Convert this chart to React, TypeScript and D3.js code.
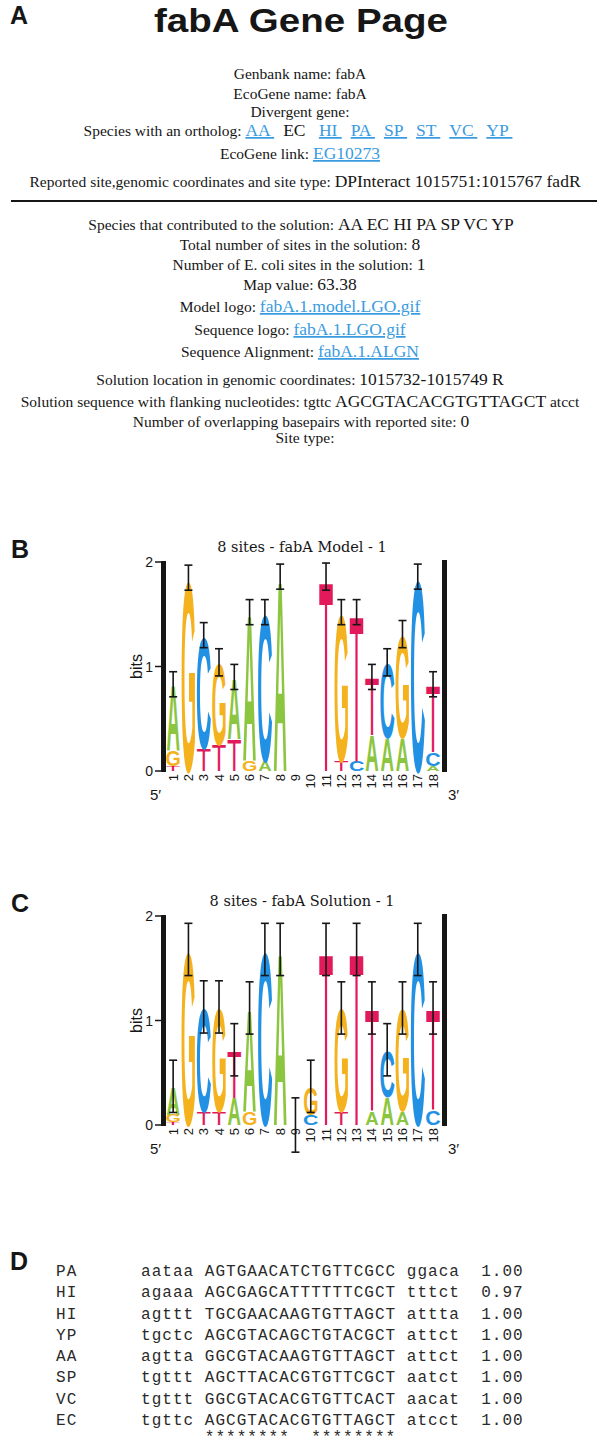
import React from "react";
import * as d3 from "d3";

// ---------------- Panel A data ----------------
const panelTitle = "fabA Gene Page";
const genbankName = "fabA";
const ecoGeneName = "fabA";
const orthologSpecies = ["AA", "EC", "HI", "PA", "SP", "ST", "VC", "YP"];
const querySpecies = "EC";
const ecoGeneLink = "EG10273";
const reportedSite = "DPInteract 1015751:1015767 fadR";
const contributingSpecies = ["AA", "EC", "HI", "PA", "SP", "VC", "YP"];
const totalSites = "8";
const ecoliSites = "1";
const mapValue = "63.38";
const modelLogoFile = "fabA.1.model.LGO.gif";
const seqLogoFile = "fabA.1.LGO.gif";
const alignmentFile = "fabA.1.ALGN";
const solutionLocation = "1015732-1015749 R";
const solutionFlankLeft = "tgttc";
const solutionCore = "AGCGTACACGTGTTAGCT";
const solutionFlankRight = "atcct";
const overlapBp = "0";

// ---------------- Panel B / C data (bits per letter, positions 1..18) ----------------
const logoPositions = ["1", "2", "3", "4", "5", "6", "7", "8", "9", "10", "11", "12", "13", "14", "15", "16", "17", "18"];

const modelA = [0.63, 0, 0, 0, 0.59, 1.42, 0.1, 1.86, 0, 0, 0, 0, 0, 0.34, 0.32, 0.32, 0, 0.05];
const modelC = [0, 0, 1.08, 0, 0, 0, 1.42, 0, 0, 0, 0, 0, 0.1, 0, 0.72, 0, 1.86, 0.13];
const modelG = [0.15, 1.85, 0, 0.79, 0, 0.1, 0, 0, 0, 0, 0, 1.42, 0, 0, 0, 0.99, 0, 0];
const modelT = [0.05, 0, 0.22, 0.25, 0.31, 0, 0, 0, 0, 0, 1.86, 0.1, 1.42, 0.56, 0, 0, 0, 0.65];
const modelErr = [0.12, 0.12, 0.12, 0.13, 0.12, 0.12, 0.12, 0.12, 0, 0, 0.13, 0.12, 0.12, 0.12, 0.13, 0.13, 0.12, 0.12];

const solA = [0.27, 0, 0, 0, 0.26, 0.99, 0, 1.68, 0, 0, 0, 0, 0, 0.13, 0.27, 0.13, 0, 0];
const solC = [0, 0, 1.01, 0, 0, 0, 1.68, 0, 0, 0.1, 0, 0, 0, 0, 0.45, 0, 1.68, 0.14];
const solG = [0.07, 1.68, 0, 1.01, 0, 0.13, 0, 0, 0, 0.27, 0, 1.0, 0, 0, 0, 0.99, 0, 0];
const solT = [0.03, 0, 0.12, 0.12, 0.46, 0, 0, 0, 0, 0, 1.68, 0.12, 1.68, 0.99, 0, 0, 0, 0.98];
const solErr = [0.25, 0.25, 0.25, 0.25, 0.25, 0.25, 0.25, 0.25, 0.26, 0.25, 0.25, 0.25, 0.25, 0.25, 0.25, 0.25, 0.25, 0.25];

// ---------------- Panel D data ----------------
const alignSpecies = ["PA", "HI", "HI", "YP", "AA", "SP", "VC", "EC"];
const alignLeft = ["aataa", "agaaa", "agttt", "tgctc", "agtta", "tgttt", "tgttt", "tgttc"];
const alignSites = [
  "AGTGAACATCTGTTCGCC",
  "AGCGAGCATTTTTTCGCT",
  "TGCGAACAAGTGTTAGCT",
  "AGCGTACAGCTGTACGCT",
  "GGCGTACAAGTGTTAGCT",
  "AGCTTACACGTGTTCGCT",
  "GGCGTACACGTGTTCACT",
  "AGCGTACACGTGTTAGCT",
];
const alignRight = ["ggaca", "tttct", "attta", "attct", "attct", "aatct", "aacat", "atcct"];
const alignScores = ["1.00", "0.97", "1.00", "1.00", "1.00", "1.00", "1.00", "1.00"];
const conservedMask = "********  ********";

// ---------------- styling ----------------
const SERIF = "'Liberation Serif', 'Times New Roman', serif";
const SANS = "'Liberation Sans', Arial, Helvetica, sans-serif";
const MONO = "'Liberation Mono', 'Courier New', monospace";
const INK = "#161616";
const LINK = "#3a9be0";
const LABEL_FS = 15.5;
const VALUE_FS = 17.5;

const glyphInfo: Record<string, { x0: number; x1: number; color: string; weight: string }> = {
  A: { x0: 0.0, x1: 0.722, color: "#8cc53f", weight: "bold" },
  C: { x0: 0.045, x1: 0.675, color: "#2391e3", weight: "bold" },
  G: { x0: 0.045, x1: 0.727, color: "#f5b21f", weight: "bold" },
  T: { x0: 0.023, x1: 0.588, color: "#e21a5c", weight: "normal" },
};
const CAP = 0.716;
const GFS = 100;

function Letter({ ch, x, w, yb, h }: { ch: string; x: number; w: number; yb: number; h: number }) {
  const g = glyphInfo[ch];
  const sx = w / ((g.x1 - g.x0) * GFS);
  const sy = h / (CAP * GFS);
  return (
    <text
      transform={`translate(${x - g.x0 * GFS * sx},${yb}) scale(${sx},${sy})`}
      fontSize={GFS}
      fontFamily={SANS}
      fontWeight={g.weight}
      fill={g.color}
    >
      {ch}
    </text>
  );
}

function Logo({
  zeroY,
  title,
  panel,
  A,
  C,
  G,
  T,
  err,
}: {
  zeroY: number;
  title: string;
  panel: string;
  A: number[];
  C: number[];
  G: number[];
  T: number[];
  err: number[];
}) {
  const x = d3.scaleBand<string>().domain(logoPositions).range([165.5, 440.7]).paddingInner(0.12).paddingOuter(0.06);
  const y = d3.scaleLinear().domain([0, 2]).range([zeroY, zeroY - 209]);
  const bw = x.bandwidth();
  const heights: Record<string, number[]> = { A, C, G, T };
  const cols = logoPositions.map((p, i) => {
    const stack = ["A", "C", "G", "T"]
      .map((l) => ({ l, h: heights[l][i] }))
      .filter((d) => d.h > 0)
      .sort((a, b) => a.h - b.h);
    let acc = 0;
    const items = stack.map((d) => {
      const y0 = acc;
      acc += d.h;
      return { ...d, y0, y1: acc };
    });
    return { p, i, items, total: acc };
  });
  return (
    <g>
      <text x={11} y={zeroY - 213} fontFamily={SANS} fontWeight="bold" fontSize={25} fill={INK}>
        {panel}
      </text>
      <text x={302} y={zeroY - 219} textAnchor="middle" fontFamily="'DejaVu Serif', serif" fontSize={14.5} fill={INK}>
        {title}
      </text>
      {cols.map((c) =>
        c.items.map((d) => (
          <Letter key={c.p + d.l} ch={d.l} x={x(c.p)!} w={bw} yb={y(d.y0)} h={y(d.y0) - y(d.y1)} />
        ))
      )}
      {cols.map((c) => {
        const e = err[c.i];
        if (!(e > 0)) return null;
        const cx = x(c.p)! + bw / 2;
        const t = y(c.total + e);
        const b = y(c.total - e);
        return (
          <g key={"e" + c.p} stroke={INK} strokeWidth={1.6}>
            <line x1={cx} x2={cx} y1={t} y2={b} />
            <line x1={cx - 4} x2={cx + 4} y1={t} y2={t} />
            <line x1={cx - 4} x2={cx + 4} y1={b} y2={b} />
          </g>
        );
      })}
      {/* axes */}
      <rect x={161} y={y(2) - 1} width={5} height={y(0) - y(2) + 2} fill={INK} />
      <rect x={442} y={y(2) - 2} width={5} height={y(0) - y(2) + 3} fill={INK} />
      {y.ticks(2).map((t) => (
        <g key={"t" + t}>
          <line x1={155} x2={161} y1={y(t)} y2={y(t)} stroke={INK} strokeWidth={1.5} />
          <text x={153} y={y(t)} textAnchor="end" dominantBaseline="central" fontFamily={SANS} fontSize={14} fill={INK}>
            {t}
          </text>
        </g>
      ))}
      <text
        transform={`translate(136,${y(1)}) rotate(-90)`}
        textAnchor="middle"
        dominantBaseline="central"
        fontFamily={SANS}
        fontSize={16}
        fill={INK}
      >
        bits
      </text>
      {logoPositions.map((p) => (
        <text
          key={"n" + p}
          transform={`translate(${x(p)! + bw / 2},${y(0) + 3}) rotate(-90)`}
          textAnchor="end"
          dominantBaseline="central"
          fontFamily={SANS}
          fontSize={13}
          fill={INK}
        >
          {p}
        </text>
      ))}
      <text x={150} y={zeroY + 29} fontFamily={SANS} fontSize={15} fill={INK}>
        5′
      </text>
      <text x={448} y={zeroY + 29} fontFamily={SANS} fontSize={15} fill={INK}>
        3′
      </text>
    </g>
  );
}

type Part = { t: string; kind: "label" | "value" | "link" | "plain"; dx?: number };

function InfoLine({ y, cx, parts }: { y: number; cx: number; parts: Part[] }) {
  return (
    <text x={cx} y={y} textAnchor="middle" fontFamily={SERIF} style={{ whiteSpace: "pre" }}>
      {parts.map((p, i) => (
        <tspan
          key={i}
          dx={p.dx || 0}
          fontSize={p.kind === "label" || p.kind === "plain" ? LABEL_FS : VALUE_FS}
          fill={p.kind === "link" ? LINK : INK}
          style={p.kind === "link" ? { textDecoration: "underline" } : undefined}
        >
          {p.t}
        </tspan>
      ))}
    </text>
  );
}

export default function App() {
  const lab = (t: string): Part => ({ t: t + " ", kind: "label" });
  const topLines: Part[][] = [
    [lab("Genbank name:"), { t: genbankName, kind: "plain" }],
    [lab("EcoGene name:"), { t: ecoGeneName, kind: "plain" }],
    [{ t: "Divergent gene:", kind: "label" }],
    [
      lab("Species with an ortholog:"),
      ...orthologSpecies.map((s, i): Part => ({
        t: s + " ",
        kind: s === querySpecies ? "value" : "link",
        dx: i === 0 ? 0 : 9,
      })),
    ],
    [lab("EcoGene link:"), { t: ecoGeneLink, kind: "link" }],
    [lab("Reported site,genomic coordinates and site type:"), { t: reportedSite, kind: "value" }],
  ];
  const bottomLines: Part[][] = [
    [lab("Species that contributed to the solution:"), { t: contributingSpecies.join(" "), kind: "value" }],
    [lab("Total number of sites in the solution:"), { t: totalSites, kind: "value" }],
    [lab("Number of E. coli sites in the solution:"), { t: ecoliSites, kind: "value" }],
    [lab("Map value:"), { t: mapValue, kind: "value" }],
    [lab("Model logo:"), { t: modelLogoFile, kind: "link" }],
    [lab("Sequence logo:"), { t: seqLogoFile, kind: "link" }],
    [lab("Sequence Alignment:"), { t: alignmentFile, kind: "link" }],
    [lab("Solution location in genomic coordinates:"), { t: solutionLocation, kind: "value" }],
    [
      lab("Solution sequence with flanking nucleotides:"),
      { t: solutionFlankLeft + " ", kind: "plain" },
      { t: solutionCore, kind: "value" },
      { t: " " + solutionFlankRight, kind: "plain" },
    ],
    [lab("Number of overlapping basepairs with reported site:"), { t: overlapBp, kind: "value" }],
    [{ t: "Site type:", kind: "label" }],
  ];
  const topY = [79, 99, 117, 136, 159, 187];
  const topX = [300, 300, 300, 298, 300, 305];
  const bottomY = [230, 250, 270, 290, 312, 335, 357, 385, 407, 427, 443];
  const bottomX = [301, 300, 299, 300, 300, 300, 300, 300, 300, 301, 305];

  // Panel D layout scales
  const colX = d3.scaleLinear().domain([0, 1]).range([56, 66.63]);
  const rowY = d3.scalePoint<number>().domain(d3.range(alignSpecies.length)).range([1276, 1425]);
  const rowStep = rowY.step();
  const monoProps = {
    fontFamily: MONO,
    fontSize: 16,
    letterSpacing: 1.03,
    fill: "#2a2a2a",
    style: { whiteSpace: "pre" as const },
  };

  return (
    <svg
      width={600}
      height={1447}
      viewBox="0 0 600 1447"
      style={{ position: "absolute", left: 0, top: 0, display: "block", background: "#fff" }}
    >
      <rect width={600} height={1447} fill="#fff" />
      {/* Panel A */}
      <text x={10} y={24} fontFamily={SANS} fontWeight="bold" fontSize={25} fill={INK}>
        A
      </text>
      <text
        x={301}
        y={32}
        textAnchor="middle"
        fontFamily={SANS}
        fontWeight="bold"
        fontSize={33}
        textLength={294}
        lengthAdjust="spacingAndGlyphs"
        fill={INK}
      >
        {panelTitle}
      </text>
      {topLines.map((parts, i) => (
        <InfoLine key={"tl" + i} y={topY[i]} cx={topX[i]} parts={parts} />
      ))}
      <line x1={11} x2={597} y1={201} y2={201} stroke={INK} strokeWidth={2} />
      {bottomLines.map((parts, i) => (
        <InfoLine key={"bl" + i} y={bottomY[i]} cx={bottomX[i]} parts={parts} />
      ))}

      {/* Panel B */}
      <Logo zeroY={771} title="8 sites - fabA Model - 1" panel="B" A={modelA} C={modelC} G={modelG} T={modelT} err={modelErr} />
      {/* Panel C */}
      <Logo zeroY={1125} title="8 sites - fabA Solution - 1" panel="C" A={solA} C={solC} G={solG} T={solT} err={solErr} />

      {/* Panel D */}
      <text x={10} y={1270} fontFamily={SANS} fontWeight="bold" fontSize={25} fill={INK}>
        D
      </text>
      {alignSpecies.map((s, i) => (
        <g key={"r" + i}>
          <text x={colX(0)} y={rowY(i)} {...monoProps}>{s}</text>
          <text x={colX(8)} y={rowY(i)} {...monoProps}>{alignLeft[i]}</text>
          <text x={colX(14)} y={rowY(i)} {...monoProps}>{alignSites[i]}</text>
          <text x={colX(33)} y={rowY(i)} {...monoProps}>{alignRight[i]}</text>
          <text x={colX(40)} y={rowY(i)} {...monoProps}>{alignScores[i]}</text>
        </g>
      ))}
      <text x={colX(14)} y={rowY(alignSpecies.length - 1)! + rowStep - 4} {...monoProps}>
        {conservedMask}
      </text>
    </svg>
  );
}
